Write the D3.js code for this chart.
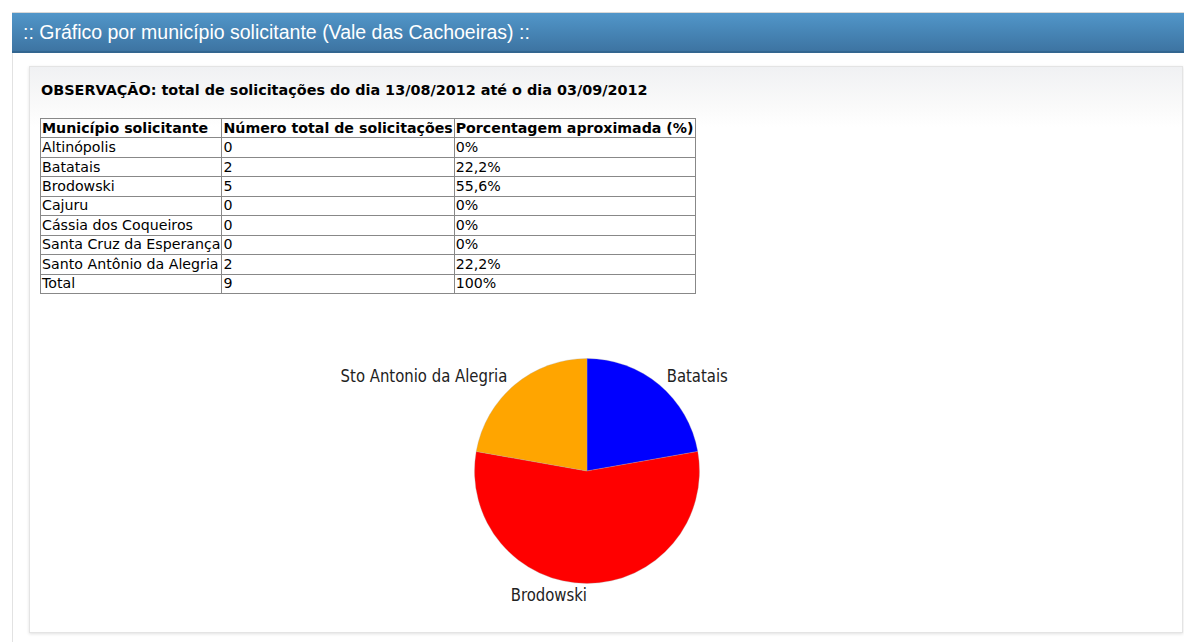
<!DOCTYPE html>
<html>
<head>
<meta charset="utf-8">
<script src="https://cdn.jsdelivr.net/npm/d3@7"></script>
<style>
  html, body { margin: 0; padding: 0; background: #fff; width: 1184px; height: 642px; overflow: hidden; }
  #outer { position: absolute; left: 12px; top: 53px; width: 1180px; height: 600px; border-left: 1px solid #e2e2e2; }
  #header { position: absolute; left: 12px; top: 12px; width: 1180px; height: 41px;
    border-top: 1px solid #d8d8d8;
    background: linear-gradient(#5196c9, #3d74a2); border-bottom: 2px solid #336690; box-sizing: border-box; }
  #header span { position: absolute; left: 11px; top: 8px; color: #fff; font: 19.5px "Liberation Sans", Arial, sans-serif; }
  #panel { position: absolute; left: 29px; top: 66px; width: 1152px; height: 565px; border: 1px solid #e4e4e4;
    box-shadow: 0 1px 3px rgba(0,0,0,0.12);
    background: linear-gradient(#f0f1f3 0px, #fafafa 40px, #fff 60px, #fff 100%); }
  #obs { position: absolute; left: 11px; top: 15px; font: bold 14.4px "DejaVu Sans", Verdana, sans-serif; color: #000; }
  #tabela { position: absolute; left: 10px; top: 51px; border-collapse: collapse; border: 1px solid #333;
    font: 14.2px "DejaVu Sans", Verdana, sans-serif; color: #000; }
  #tabela tr { height: 19.45px; }
  #tabela td, #tabela th { border: 1px solid #888; padding: 0 1px; line-height: 17px; text-align: left; white-space: nowrap; }
  #tabela th { font-weight: bold; }
  #chart { position: absolute; left: 0; top: 0; }
</style>
</head>
<body>
<div id="header"><span>:: Gráfico por município solicitante (Vale das Cachoeiras) ::</span></div>
<div id="outer"></div>
<div id="panel">
  <div id="obs">OBSERVAÇÃO: total de solicitações do dia 13/08/2012 até o dia 03/09/2012</div>
  <table id="tabela"></table>
</div>
<svg id="chart" width="1184" height="642"></svg>
<script>
// dados da tabela
var colunas = ["Município solicitante", "Número total de solicitações", "Porcentagem aproximada (%)"];
var municipios = ["Altinópolis", "Batatais", "Brodowski", "Cajuru", "Cássia dos Coqueiros", "Santa Cruz da Esperança", "Santo Antônio da Alegria"];
var solicitacoes = [0, 2, 5, 0, 0, 0, 2];
var porcentagens = ["0%", "22,2%", "55,6%", "0%", "0%", "0%", "22,2%"];
var totalLinha = ["Total", "9", "100%"];

// rótulos e cores do gráfico de pizza
var rotulosPizza = ["Altinópolis", "Batatais", "Brodowski", "Cajuru", "Cássia dos Coqueiros", "Santa Cruz da Esperança", "Sto Antonio da Alegria"];
var coresPizza = ["#00aa00", "#0000ff", "#ff0000", "#990099", "#00cccc", "#888888", "#ffa500"];

window.addEventListener("load", function () {
  // tabela
  var tabela = d3.select("#tabela");
  tabela.append("tr").selectAll("th").data(colunas).enter().append("th").text(function (d) { return d; });

  var linhas = municipios.map(function (m, i) { return [m, String(solicitacoes[i]), porcentagens[i]]; });
  linhas.push(totalLinha);

  tabela.selectAll("tr.linha").data(linhas).enter()
    .append("tr").attr("class", "linha")
    .selectAll("td").data(function (d) { return d; }).enter()
    .append("td").text(function (d) { return d; });

  // gráfico de pizza
  var cx = 587, cy = 471, raio = 112.5, raioRotulo = 124;

  var dados = municipios.map(function (m, i) {
    return { rotulo: rotulosPizza[i], valor: solicitacoes[i], cor: coresPizza[i] };
  }).filter(function (d) { return d.valor > 0; });

  var pie = d3.pie().sort(null).value(function (d) { return d.valor; });
  var arc = d3.arc().innerRadius(0).outerRadius(raio);
  var rotuloArc = d3.arc().innerRadius(raioRotulo).outerRadius(raioRotulo);

  var g = d3.select("#chart").append("g")
    .attr("transform", "translate(" + cx + "," + cy + ")");

  g.selectAll("path").data(pie(dados)).enter()
    .append("path")
    .attr("d", arc)
    .style("fill", function (d) { return d.data.cor; })
    .style("stroke", "#aaa")
    .style("stroke-width", 0.3);

  g.selectAll("text").data(pie(dados)).enter()
    .append("text")
    .attr("transform", function (d) { return "translate(" + rotuloArc.centroid(d) + ") scale(0.92,1)"; })
    .attr("dy", "0.35em")
    .attr("text-anchor", function (d) {
      var meio = (d.startAngle + d.endAngle) / 2;
      return meio < Math.PI - 0.001 ? "start" : "end";
    })
    .style("font-family", "'DejaVu Sans Condensed', 'DejaVu Sans', sans-serif")
    .style("font-stretch", "condensed")
    .style("font-size", "18px")
    .style("fill", "#222")
    .text(function (d) { return d.data.rotulo; });
});
</script>
</body>
</html>
